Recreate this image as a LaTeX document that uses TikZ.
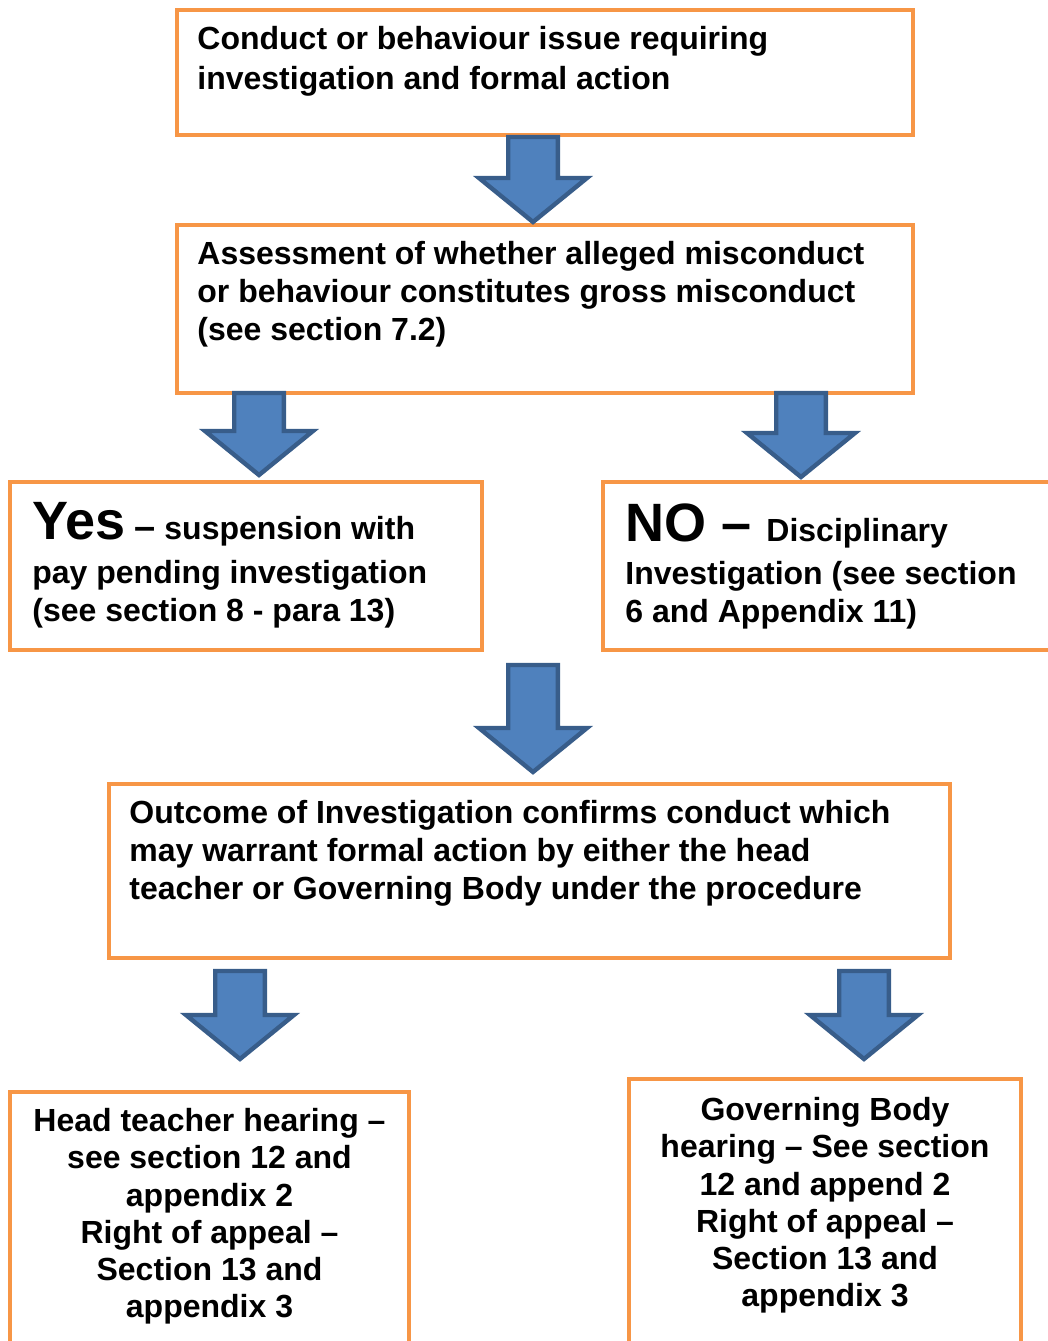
\documentclass[tikz,border=0pt]{standalone}
\usepackage{fontspec}
\setmainfont{Liberation Sans}
\usetikzlibrary{calc,positioning}

\definecolor{boxorange}{HTML}{F79646}
\definecolor{arrowfill}{HTML}{4F81BD}
\definecolor{arrowline}{HTML}{385D8A}

\tikzset{
  box/.style={draw=boxorange, line width=2.2pt, fill=white, anchor=north west, outer sep=0pt, inner sep=0pt},
  txt/.style={inner sep=0pt, align=left, font=\fontsize{16}{19}\selectfont\bfseries},
  ctxt/.style={inner sep=0pt, align=center, font=\fontsize{16}{18.6}\selectfont\bfseries},
  barrow/.style={draw=arrowline, fill=arrowfill, line width=2.2pt, line join=miter},
}

% big opening word of the yes/no boxes
\newcommand\yesno[1]{{\fontsize{27}{27}\selectfont #1}}

% fat down arrow: #1 top of the shaft, #2 the tip
\newcommand\blockarrow[2]{%
  \draw[barrow] let \p1=#1, \p2=#2 in
    (\x1-12.4pt,\y1) -- (\x1+12.4pt,\y1) -- (\x1+12.4pt,\y2+22pt)
    -- (\x1+27pt,\y2+22pt) -- (\x2,\y2) -- (\x1-27pt,\y2+22pt)
    -- (\x1-12.4pt,\y2+22pt) -- cycle;}

\begin{document}
\begin{tikzpicture}[x=0.5pt,y=-0.5pt]
    \useasboundingbox (0,0) rectangle (1048,1341);

    % boxes
    \node[box, minimum width=368pt, minimum height=62.5pt] (issue) at (177,10) {};
    \node[box, minimum width=368pt, minimum height=84pt] (assess) at (177,225) {};
    \node[box, minimum width=236pt, minimum height=84pt] (yes) at (10,482) {};
    \node[box, minimum width=228.5pt, minimum height=84pt] (no) at (603,482) {};
    \node[box, minimum width=420.5pt, minimum height=87pt] (outcome) at (109,784) {};
    \node[box, minimum width=199.5pt, minimum height=134pt] (head) at (10,1092) {};
    \node[box, minimum width=196pt, minimum height=140.5pt] (gov) at (629,1079) {};

    % texts
    \node[txt, below right=8pt and 10pt of issue.north west] (issuetxt)
        {Conduct or behaviour issue requiring\\[1pt] investigation and formal action};
    \node[txt, below right=8pt and 10pt of assess.north west] (assesstxt)
        {Assessment of whether alleged misconduct\\ or behaviour constitutes gross misconduct\\ (see section 7.2)};
    \node[txt, below right=10pt and 11pt of yes.north west] (yestxt)
        {\yesno{Yes} {\fontsize{19}{19}\selectfont –} suspension with\\[2.75pt] pay pending investigation\\ (see section 8 - para 13)};
    \node[txt, below right=10.5pt and 11pt of no.north west] (notxt)
        {\yesno{NO – }Disciplinary\\[2.75pt] Investigation (see section\\ 6 and Appendix 11)};
    \node[txt, below right=8pt and 10pt of outcome.north west] (outcometxt)
        {Outcome of Investigation confirms conduct which\\ may warrant formal action by either the head\\ teacher or Governing Body under the procedure};
    \node[ctxt, below=8pt of head.north] (headtxt)
        {Head teacher hearing –\\ see section 12 and\\ appendix 2\\ Right of appeal –\\ Section 13 and\\ appendix 3};
    \node[ctxt, below=9pt of gov.north] (govtxt)
        {Governing Body\\ hearing – See section\\ 12 and append 2\\ Right of appeal –\\ Section 13 and\\ appendix 3};

    % arrows between the boxes
    \blockarrow{($(issue.south -| 533,0)+(0,2)$)}{($(assess.north -| 533,0)+(0,-3)$)}
    \blockarrow{(assess.south -| 259,0)}{($(yes.north -| 259,0)+(0,-7)$)}
    \blockarrow{(assess.south -| 801,0)}{($(no.north -| 801,0)+(0,-5)$)}
    \blockarrow{($(yes.south -| 533,0)+(0,15)$)}{($(outcome.north -| 533,0)+(0,-12)$)}
    \blockarrow{($(outcome.south -| 240,0)+(0,13)$)}{($(head.north -| 240,0)+(0,-33)$)}
    \blockarrow{($(outcome.south -| 864,0)+(0,13)$)}{($(gov.north -| 864,0)+(0,-20)$)}
\end{tikzpicture}
\end{document}
